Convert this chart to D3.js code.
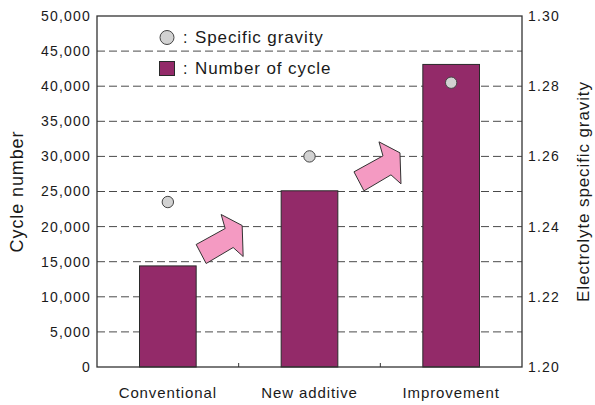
<!DOCTYPE html>
<html>
<head>
<meta charset="utf-8">
<script src="https://cdn.jsdelivr.net/npm/d3@7"></script>
<style>
  html, body { margin: 0; padding: 0; background: #fff; }
  svg { display: block; }
  text { font-family: "Liberation Sans", Arial, Helvetica, sans-serif; fill: #1a1a1a; }
</style>
</head>
<body>
<svg id="chart" width="595" height="405"></svg>
<script>
// Categories and measured values
const categories = ["Conventional", "New additive", "Improvement"];
const cycleNumber = [14400, 25100, 43100];
const specificGravity = [1.247, 1.260, 1.281];

// Axis ticks
const cycleTicks = [0, 5000, 10000, 15000, 20000, 25000, 30000, 35000, 40000, 45000, 50000];
const gravityTicks = [1.20, 1.22, 1.24, 1.26, 1.28, 1.30];

// Legend entries
const legendLabels = ["Specific gravity", "Number of cycle"];

// Improvement arrows: placed in the gap after a category, at a cycle level
const arrowFrom = [0, 1];
const arrowGap = [0.0, 0.19];
const arrowLevel = [17450, 27800];
// Outline of a block arrow (local units, tail-top corner at origin)
const arrowOutline = [[0, 0], [29, -16], [25, -30], [46, -19], [47, 12], [37, 3], [10, 19]];

const W = 595, H = 405;
const margin = { top: 16, right: 73, bottom: 38, left: 97 };
const iw = W - margin.left - margin.right;
const ih = H - margin.top - margin.bottom;

const svg = d3.select("#chart");
const g = svg.append("g").attr("transform", `translate(${margin.left},${margin.top})`);

const x = d3.scaleBand().domain(categories).range([0, iw]).paddingInner(0.6).paddingOuter(0.3);
const y = d3.scaleLinear().domain([0, 50000]).range([ih, 0]);
const y2 = d3.scaleLinear().domain([1.20, 1.30]).range([ih, 0]);

const barColor = "#932a69";
const lineColor = "#333";
const tickFont = 14;
const tickSpacing = "1.2px";

// Dashed horizontal grid
g.append("g")
  .selectAll("line")
  .data(cycleTicks.filter(d => d > 0 && d < 50000))
  .join("line")
  .attr("x1", 0).attr("x2", iw)
  .attr("y1", d => y(d)).attr("y2", d => y(d))
  .attr("stroke", "#4a4a4a")
  .attr("stroke-width", 1)
  .attr("stroke-dasharray", "8,4");

// Bars: number of cycles
g.append("g")
  .selectAll("rect")
  .data(categories)
  .join("rect")
  .attr("x", d => x(d))
  .attr("y", (d, i) => y(cycleNumber[i]))
  .attr("width", x.bandwidth())
  .attr("height", (d, i) => ih - y(cycleNumber[i]))
  .attr("fill", barColor)
  .attr("stroke", "#2a2a2a")
  .attr("stroke-width", 1);

// Arrows between bars
const arrowLine = d3.line();
arrowFrom.forEach((fi, k) => {
  const x0 = x(categories[fi]) + x.bandwidth();
  const x1 = x(categories[fi + 1]);
  const ax = x0 + arrowGap[k] * (x1 - x0);
  const ay = y(arrowLevel[k]);
  g.append("path")
    .attr("transform", `translate(${ax},${ay})`)
    .attr("d", arrowLine(arrowOutline) + "Z")
    .attr("fill", "#f49ac2")
    .attr("stroke", "#333")
    .attr("stroke-width", 1)
    .attr("stroke-linejoin", "miter");
});

// Points: electrolyte specific gravity
g.append("g")
  .selectAll("circle")
  .data(categories)
  .join("circle")
  .attr("cx", d => x(d) + x.bandwidth() / 2)
  .attr("cy", (d, i) => y2(specificGravity[i]))
  .attr("r", 5.7)
  .attr("fill", "#d2d2d2")
  .attr("stroke", "#444")
  .attr("stroke-width", 1);

// Left axis
const yAxis = d3.axisLeft(y).tickValues(cycleTicks).tickSize(0).tickPadding(6)
  .tickFormat(d3.format(","));
const ya = g.append("g").call(yAxis);
ya.select(".domain").remove();
ya.selectAll("text")
  .attr("font-size", tickFont)
  .style("letter-spacing", tickSpacing)
  .attr("fill", "#1a1a1a")
  .attr("font-family", null);

// Right axis
const y2Axis = d3.axisRight(y2).tickValues(gravityTicks).tickSize(0).tickPadding(6)
  .tickFormat(d3.format(".2f"));
const y2a = g.append("g").attr("transform", `translate(${iw},0)`).call(y2Axis);
y2a.select(".domain").remove();
y2a.selectAll("text")
  .attr("font-size", tickFont)
  .style("letter-spacing", tickSpacing)
  .attr("fill", "#1a1a1a")
  .attr("font-family", null);

// Bottom axis: category labels and small ticks between categories
const xAxis = d3.axisBottom(x).tickSize(0).tickPadding(20);
const xa = g.append("g").attr("transform", `translate(0,${ih})`).call(xAxis);
xa.select(".domain").remove();
xa.selectAll("text")
  .attr("font-size", 15)
  .style("letter-spacing", "0.9px")
  .attr("fill", "#1a1a1a")
  .attr("font-family", null);

g.append("g")
  .selectAll("line")
  .data(categories.slice(1))
  .join("line")
  .attr("x1", d => x(d) - x.step() * x.paddingInner() / 2)
  .attr("x2", d => x(d) - x.step() * x.paddingInner() / 2)
  .attr("y1", ih).attr("y2", ih - 4)
  .attr("stroke", lineColor)
  .attr("stroke-width", 1);

// Plot frame
g.append("rect")
  .attr("x", 0).attr("y", 0)
  .attr("width", iw).attr("height", ih)
  .attr("fill", "none")
  .attr("stroke", lineColor)
  .attr("stroke-width", 1.3);

// Axis titles
svg.append("text")
  .attr("transform", `translate(23,${margin.top + ih / 2}) rotate(-90)`)
  .attr("text-anchor", "middle")
  .attr("font-size", 18)
  .style("letter-spacing", "0.9px")
  .text("Cycle number");

svg.append("text")
  .attr("transform", `translate(589,${margin.top + ih / 2}) rotate(-90)`)
  .attr("text-anchor", "middle")
  .attr("font-size", 17)
  .style("letter-spacing", "0.9px")
  .text("Electrolyte specific gravity");

// Legend
const legend = g.append("g");
const legendX = 70, legendY = [21.5, 52];
legend.append("circle")
  .attr("cx", legendX).attr("cy", legendY[0])
  .attr("r", 7)
  .attr("fill", "#d2d2d2").attr("stroke", "#444").attr("stroke-width", 1);
legend.append("rect")
  .attr("x", legendX - 7.5).attr("y", legendY[1] - 6.5)
  .attr("width", 15).attr("height", 14)
  .attr("fill", barColor).attr("stroke", "#2a2a2a").attr("stroke-width", 1);
legendLabels.forEach((lab, i) => {
  legend.append("text")
    .attr("x", legendX + 16).attr("y", legendY[i]).attr("dy", "0.35em")
    .attr("font-size", 16)
    .text(":");
  legend.append("text")
    .attr("x", legendX + 28).attr("y", legendY[i]).attr("dy", "0.35em")
    .attr("font-size", 17)
    .style("letter-spacing", "0.9px")
    .text(lab);
});
</script>
</body>
</html>
